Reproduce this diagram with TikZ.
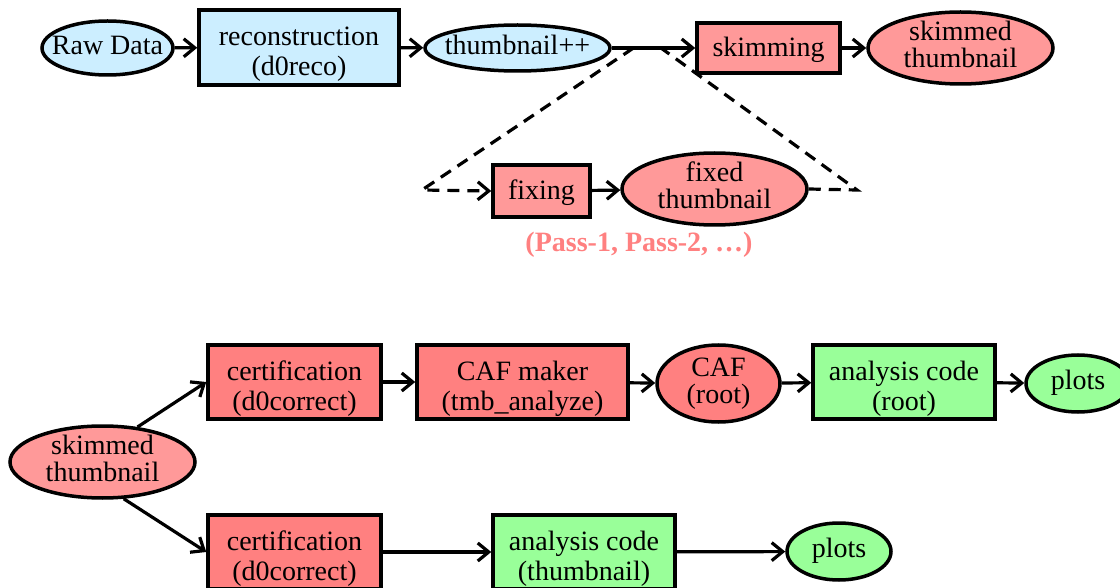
\documentclass[tikz,border=0pt]{standalone}
\usepackage{fontspec}
\setmainfont{Liberation Serif}
\usetikzlibrary{shapes.geometric,arrows.meta,calc}
\definecolor{cblue}{HTML}{CCEEFF}
\definecolor{cpink}{HTML}{FF9999}
\definecolor{cred}{HTML}{FF8080}
\definecolor{cgreen}{HTML}{99FF99}
\definecolor{cpass}{HTML}{FF8080}
\newcommand\zt[2][0pt]{\makebox[0pt]{\raisebox{\dimexpr-6.5pt-#1\relax}[0pt][0pt]{\begin{tabular}{@{}c@{}}#2\end{tabular}}}}
\begin{document}
\begin{tikzpicture}[x=1pt,y=-1pt,
  every node/.style={font=\fontsize{28}{30}\selectfont},
  box/.style={draw, line width=3.5pt, rectangle, inner sep=0pt},
  ell/.style={draw, line width=3.5pt, ellipse, inner sep=0pt},
  arr/.style={line width=3.2pt, -{Straight Barb[length=11pt,width=18pt]}},
  dsh/.style={line width=3.2pt, dash pattern=on 12pt off 8pt},
  passtext/.style={text=cpass, font=\fontsize{28}{30}\selectfont\bfseries}]
\useasboundingbox (0,0) rectangle (1120,588);
% top row
\node[ell, fill=cblue, minimum width=131pt, minimum height=54pt] (raw) at (107.5,48) {\zt{Raw Data}};
\node[box, fill=cblue, minimum width=200pt, minimum height=75pt] (reco) at (299,47.5) {\zt[7pt]{reconstruction\\(d0reco)}};
\node[ell, fill=cblue, minimum width=185pt, minimum height=46pt] (thumb) at (517.5,48) {\zt{thumbnail++}};
\node[box, fill=cpink, minimum width=143pt, minimum height=50pt] (skim) at (768.5,48) {\zt[2pt]{skimming}};
\node[ell, fill=cpink, minimum width=185pt, minimum height=72pt] (skimmed) at (960.5,48) {\zt{skimmed\\[-3pt]thumbnail}};
% fixing
\node[box, fill=cpink, minimum width=97pt, minimum height=52pt] (fixing) at (541.5,191) {\zt[2pt]{fixing}};
\node[ell, fill=cpink, minimum width=185pt, minimum height=72pt] (fixed) at (714.5,189) {\zt{fixed\\[-3pt]thumbnail}};
\node[passtext] (pass) at (639,245) {\zt{(Pass-1, Pass-2, \dots)}};
% bottom
\node[ell, fill=cpink, minimum width=185pt, minimum height=72pt] (sk2) at (102.5,462) {\zt{skimmed\\[-3pt]thumbnail}};
\node[box, fill=cred, minimum width=173pt, minimum height=74pt] (cert1) at (294.5,382) {\zt[7pt]{certification\\(d0correct)}};
\node[box, fill=cred, minimum width=211pt, minimum height=74pt] (cafm) at (522.5,382) {\zt[7pt]{CAF maker\\(tmb\_analyze)}};
\node[ell, fill=cred, minimum width=123pt, minimum height=77pt] (caf) at (718.5,383.5) {\zt{CAF\\[-3pt](root)}};
\node[box, fill=cgreen, minimum width=182pt, minimum height=74pt] (ana1) at (904,382) {\zt[7pt]{analysis code\\(root)}};
\node[ell, fill=cgreen, minimum width=104pt, minimum height=57pt] (plots1) at (1078,383.5) {\zt{plots}};
\node[box, fill=cred, minimum width=173pt, minimum height=74pt] (cert2) at (294.5,552) {\zt[7pt]{certification\\(d0correct)}};
\node[box, fill=cgreen, minimum width=182pt, minimum height=74pt] (ana2) at (584,552) {\zt[7pt]{analysis code\\(thumbnail)}};
\node[ell, fill=cgreen, minimum width=104pt, minimum height=57pt] (plots2) at (839,551.5) {\zt{plots}};
% connectors top
\draw[arr] (raw) -- (reco);
\draw[arr] (reco) -- (thumb);
\draw[arr] (thumb) -- (skim);
\draw[arr] (skim) -- (skimmed);
\coordinate (dl) at ($(thumb.east)!0.26!(skim.west)$);
\coordinate (dr) at ($(thumb.east)!0.59!(skim.west)$);
\coordinate (apl) at (422,190);
\coordinate (apr) at (857,190);
\draw[dsh, -{Straight Barb[length=11pt,width=18pt]}] (dl) -- (apl) -- (fixing.west);
\draw[dsh] (fixed.east) -- (apr) -- (dr);
\draw[arr] (fixing) -- (fixed);
% connectors bottom
\draw[arr] (sk2.45) -- (cert1.west);
\draw[arr] (sk2.-60) -- (cert2.west);
\draw[arr] (cert1) -- (cafm);
\draw[arr] (cafm) -- (caf);
\draw[arr] (caf) -- (ana1);
\draw[arr] (ana1) -- (plots1);
\draw[arr] (cert2) -- (ana2);
\draw[arr] (ana2) -- (plots2);
\end{tikzpicture}
\end{document}
